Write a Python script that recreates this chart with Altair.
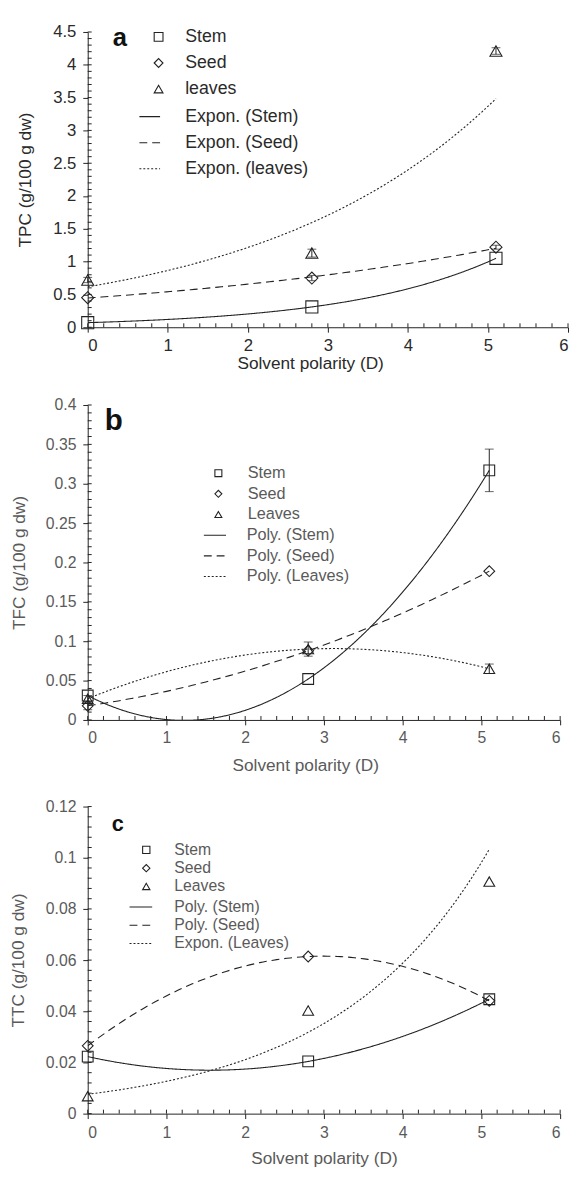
import altair as alt
import numpy as np
import pandas as pd

# ---------------- data ----------------
polarity = [0.0, 2.8, 5.1]
x_ticks = [0, 1, 2, 3, 4, 5, 6]

# panel a : TPC
tpc_stem = [0.07, 0.31, 1.05]
tpc_seed = [0.45, 0.75, 1.22]
tpc_leaves = [0.72, 1.13, 4.21]
tpc_err_stem = [0.0, 0.0, 0.0]
tpc_err_seed = [0.0, 0.04, 0.03]
tpc_err_leaves = [0.04, 0.06, 0.05]
tpc_ticks = [0, 0.5, 1, 1.5, 2, 2.5, 3, 3.5, 4, 4.5]

# panel b : TFC
tfc_stem = [0.031, 0.052, 0.317]
tfc_seed = [0.018, 0.088, 0.189]
tfc_leaves = [0.027, 0.090, 0.065]
tfc_err_stem = [0.0, 0.0, 0.027]
tfc_err_seed = [0.005, 0.0, 0.0]
tfc_err_leaves = [0.004, 0.009, 0.006]
tfc_ticks = [0, 0.05, 0.1, 0.15, 0.2, 0.25, 0.3, 0.35, 0.4]

# panel c : TTC
ttc_stem = [0.0223, 0.0204, 0.0447]
ttc_seed = [0.0265, 0.0614, 0.0441]
ttc_leaves = [0.0068, 0.0403, 0.0907]
ttc_err = [0.0, 0.0, 0.0]
ttc_ticks = [0, 0.02, 0.04, 0.06, 0.08, 0.1, 0.12]

a_samples = ["Stem", "Seed", "leaves"]
a_trends = ["Expon. (Stem)", "Expon. (Seed)", "Expon. (leaves)"]
a_fits = ["exp", "exp", "exp"]
b_samples = ["Stem", "Seed", "Leaves"]
b_trends = ["Poly. (Stem)", "Poly. (Seed)", "Poly. (Leaves)"]
b_fits = ["poly", "poly", "poly"]
c_samples = ["Stem", "Seed", "Leaves"]
c_trends = ["Poly. (Stem)", "Poly. (Seed)", "Expon. (Leaves)"]
c_fits = ["poly", "poly", "exp"]

SHAPES = ["square", "diamond", "triangle-up"]
DASHES = [[1, 0], [8, 5], [2, 2]]
FONT = "Liberation Sans"
INK = "#222222"


def trend_curve(xs, ys, kind):
    """Excel-style trendline fitted to the plotted points."""
    xs = np.asarray(xs, float)
    ys = np.asarray(ys, float)
    grid = np.linspace(xs.min(), xs.max(), 120)
    if kind == "exp":
        b, lna = np.polyfit(xs, np.log(ys), 1)
        return grid, np.exp(lna + b * grid)
    coef = np.polyfit(xs, ys, 2)
    return grid, np.polyval(coef, grid)


def panel(series, errs, samples, trends, fits, ticks, minor_step, ytitle,
          letter, letter_xy, w, h, st):
    ymax = ticks[-1]
    pts, cur, eb = [], [], []
    for vals, err, s, t, k in zip(series, errs, samples, trends, fits):
        for xv, yv, ev in zip(polarity, vals, err):
            pts.append({"x": xv, "y": yv, "Sample": s})
            if ev > 0:
                eb.append({"x": xv, "lo": yv - ev, "hi": yv + ev})
        gx, gy = trend_curve(polarity, vals, k)
        for a, b in zip(gx, gy):
            cur.append({"x": a, "y": b, "Trend": t})
    pts = pd.DataFrame(pts)
    cur = pd.DataFrame(cur)
    eb = pd.DataFrame(eb) if eb else pd.DataFrame({"x": [], "lo": [], "hi": []})

    xscale = alt.Scale(domain=[0, 6], nice=False, zero=False)
    yscale = alt.Scale(domain=[0, ymax], nice=False, zero=False)

    xaxis = alt.Axis(values=x_ticks, format="d", title="Solvent  polarity (D)",
                     grid=False, domainColor=INK, tickColor=INK, tickSize=5,
                     labelFont=FONT, labelFontSize=st["tick_fs"], labelColor=st["lab"],
                     labelPadding=st["xlabpad"], labelOverlap=False,
                     titleFont=FONT, titleFontSize=st["title_fs"],
                     titleFontWeight="normal", titleColor=st["lab"],
                     titleX=st["xtitle_x"], titleY=st["xtitle_y"], titleBaseline="middle",
                     titleAnchor="start", titleAlign="center")
    yaxis = alt.Axis(values=ticks, format=".3~f", title=ytitle, grid=False,
                     domainColor=INK, tickColor=INK, tickSize=5,
                     labelFont=FONT, labelFontSize=st["tick_fs"], labelColor=st["lab"],
                     labelPadding=7, labelOverlap=False,
                     titleFont=FONT, titleFontSize=st["title_fs"],
                     titleFontWeight="normal", titleColor=st["lab"],
                     titleX=st["ytitle_x"], titleY=h / 2, titleBaseline="middle",
                     titleAlign="center", titleAngle=270)

    def X(field):
        return alt.X(field, scale=xscale, axis=xaxis)

    def Y(field):
        return alt.Y(field, scale=yscale, axis=yaxis)

    half = st["llen"] / 20.0
    lines = alt.Chart(cur).mark_line(clip=True, color=INK, strokeWidth=1.1).encode(
        x=X("x:Q"),
        y=Y("y:Q"),
        strokeDash=alt.StrokeDash(
            "Trend:N",
            scale=alt.Scale(domain=trends, range=DASHES),
            sort=trends,
            legend=alt.Legend(orient="none", legendX=st["lx"], legendY=st["ly"],
                              title=None, symbolType=f"M-{half:.2f},0H{half:.2f}",
                              symbolSize=100,
                              symbolStrokeColor=INK, symbolStrokeWidth=1.1,
                              labelFont=FONT, labelFontSize=st["leg_fs"],
                              labelColor=st["lab"], labelOffset=st["l_off"],
                              rowPadding=st["rowpad"], padding=0, labelLimit=300),
        ),
        detail="Trend:N",
    )

    points = alt.Chart(pts).mark_point(filled=False, color=INK, strokeWidth=1.1,
                                       opacity=1).encode(
        x=X("x:Q"),
        y=Y("y:Q"),
        shape=alt.Shape(
            "Sample:N",
            scale=alt.Scale(domain=samples, range=SHAPES),
            sort=samples,
            legend=alt.Legend(orient="none", legendX=st["sx"], legendY=st["sy"],
                              title=None, symbolSize=st["sym_leg"],
                              symbolStrokeColor=INK, symbolFillColor="transparent",
                              symbolStrokeWidth=1.1, labelFont=FONT,
                              labelFontSize=st["leg_fs"], labelColor=st["lab"],
                              labelOffset=st["s_off"], rowPadding=st["rowpad"],
                              padding=0),
        ),
        size=alt.value(st["sym"]),
    )

    bars = alt.Chart(eb).mark_rule(color=INK, strokeWidth=1).encode(
        x=X("x:Q"), y=Y("lo:Q"), y2="hi:Q")
    caps_lo = alt.Chart(eb).mark_tick(color=INK, orient="horizontal", size=9,
                                      thickness=1).encode(x=X("x:Q"), y=Y("lo:Q"))
    caps_hi = alt.Chart(eb).mark_tick(color=INK, orient="horizontal", size=9,
                                      thickness=1).encode(x=X("x:Q"), y=Y("hi:Q"))

    # inward minor / major tick marks
    yminor = pd.DataFrame({"v": np.round(np.arange(0, ymax + 1e-9, minor_step), 6)})
    xminor = pd.DataFrame({"v": np.round(np.arange(0, 6 + 1e-9, 0.2), 6)})
    ytk = alt.Chart(yminor).mark_rule(color=INK, strokeWidth=1).encode(
        y=Y("v:Q"), x=alt.value(0), x2=alt.value(4))
    xtk = alt.Chart(xminor).mark_rule(color=INK, strokeWidth=1).encode(
        x=X("v:Q"), y=alt.value(h), y2=alt.value(h - 4))

    lab = alt.Chart(pd.DataFrame({"x": [letter_xy[0]], "y": [letter_xy[1]],
                                  "t": [letter]})).mark_text(
        font=FONT, fontWeight="bold", fontSize=st["letter_fs"], color="#111111",
        align="center", baseline="middle").encode(
        x=X("x:Q"), y=Y("y:Q"), text="t:N")

    return alt.layer(lines, points, bars, caps_lo, caps_hi, ytk, xtk, lab).properties(
        width=w, height=h).resolve_scale(shape="independent", strokeDash="independent")


st_a = dict(tick_fs=17, title_fs=17.5, leg_fs=18, lab="#2a2a2a", xlabpad=6,
            xtitle_x=226, xtitle_y=37, ytitle_x=-63, lx=54, ly=77, l_off=27, llen=42,
            sx=63, sy=-4, s_off=18, rowpad=8.5, sym=150, sym_leg=80, letter_fs=26)
st_b = dict(tick_fs=16, title_fs=17.5, leg_fs=16.5, lab="#5a5a5a", xlabpad=5,
            xtitle_x=221, xtitle_y=46, ytitle_x=-69, lx=121, ly=124, l_off=24, llen=45,
            sx=124.5, sy=61, s_off=21.5, rowpad=4, sym=120, sym_leg=50, letter_fs=30)
st_c = dict(tick_fs=16, title_fs=17.5, leg_fs=16, lab="#5a5a5a", xlabpad=6,
            xtitle_x=240, xtitle_y=46, ytitle_x=-70, lx=46, ly=94, l_off=26, llen=46,
            sx=51.5, sy=36, s_off=20.5, rowpad=2.6, sym=120, sym_leg=55, letter_fs=22)

pa = panel([tpc_stem, tpc_seed, tpc_leaves],
           [tpc_err_stem, tpc_err_seed, tpc_err_leaves],
           a_samples, a_trends, a_fits, tpc_ticks, 0.1,
           "TPC  (g/100  g dw)", "a", (0.40, 4.40), 488, 300, st_a)
pb = panel([tfc_stem, tfc_seed, tfc_leaves],
           [tfc_err_stem, tfc_err_seed, tfc_err_leaves],
           b_samples, b_trends, b_fits, tfc_ticks, 0.01,
           "TFC  (g/100  g dw)", "b", (0.33, 0.379), 480, 320, st_b)
pc = panel([ttc_stem, ttc_seed, ttc_leaves],
           [ttc_err, ttc_err, ttc_err],
           c_samples, c_trends, c_fits, ttc_ticks, 0.004,
           "TTC  (g/100  g dw)", "c", (0.38, 0.1132), 480, 312, st_c)

chart = alt.vconcat(pa, pb, pc, spacing=25).resolve_scale(
    x="independent", y="independent", shape="independent", strokeDash="independent"
).properties(
    padding={"left": 2, "top": 6, "right": 0, "bottom": 0},
    background="white",
).configure_view(stroke=None)

chart.save("out.html", embed_options={"renderer": "svg", "actions": False})
